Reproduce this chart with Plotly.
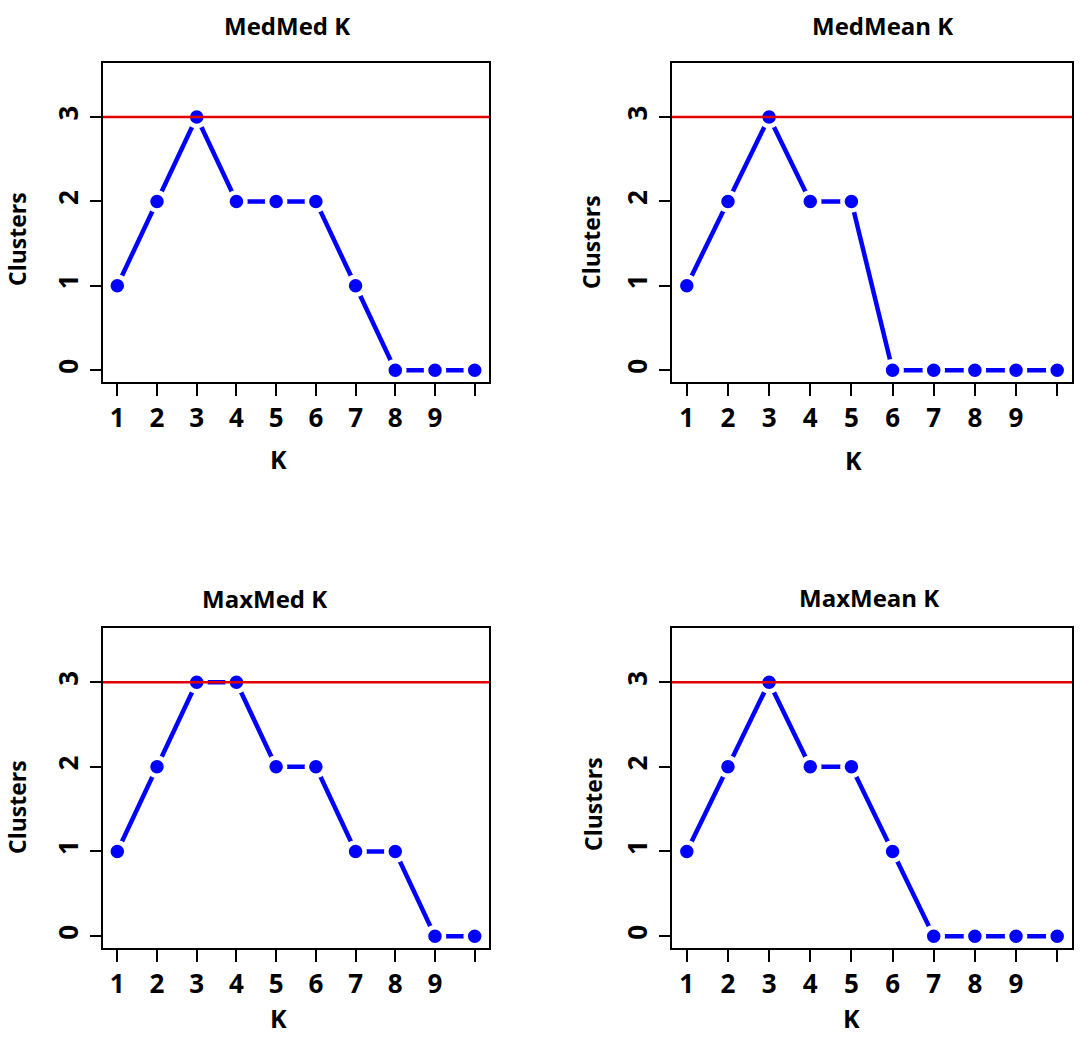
import plotly.graph_objects as go
from plotly.subplots import make_subplots

# K values and cluster counts per method
k = [1, 2, 3, 4, 5, 6, 7, 8, 9, 10]
medmed = [1, 2, 3, 2, 2, 2, 1, 0, 0, 0]
medmean = [1, 2, 3, 2, 2, 0, 0, 0, 0, 0]
maxmed = [1, 2, 3, 3, 2, 2, 1, 1, 0, 0]
maxmean = [1, 2, 3, 2, 2, 1, 0, 0, 0, 0]

titles = ["MedMed K", "MedMean K", "MaxMed K", "MaxMean K"]
series = [medmed, medmean, maxmed, maxmean]
x_ticks = [1, 2, 3, 4, 5, 6, 7, 8, 9, 10]
x_labels = ["1", "2", "3", "4", "5", "6", "7", "8", "9", ""]
y_ticks = [0, 1, 2, 3]
true_k = 3

W, H = 1084, 1037
FONT = "Open Sans"


def px(x):
    return x / W


def py(y):
    return 1 - y / H


# plot boxes in pixels: (left, right, top, bottom)
boxes = [(103, 489, 63, 382), (672, 1072, 63, 382),
         (103, 489, 628, 948), (672, 1072, 628, 948)]
title_pos = [(287, 25), (882, 25), (264, 598), (869, 597)]
ylab_pos = [(17, 239), (591, 242), (17, 807), (593, 804)]
xlab_pos = [(278, 459), (853, 460), (278, 1018), (851, 1018)]

fig = make_subplots(rows=2, cols=2)

for i, vals in enumerate(series):
    r, c = i // 2 + 1, i % 2 + 1
    fig.add_trace(go.Scatter(
        x=k, y=vals, mode="lines+markers",
        line=dict(color="#0000FF", width=4.5),
        marker=dict(color="#0000FF", size=18,
                    line=dict(color="white", width=4.5)),
        showlegend=False), row=r, col=c)
    fig.add_hline(y=true_k, line=dict(color="#E00000", width=2.5), row=r, col=c)

    left, right, top, bottom = boxes[i]
    fig.update_xaxes(domain=[px(left), px(right)], range=[0.64, 10.36],
                     tickvals=x_ticks, ticktext=x_labels,
                     ticks="outside", ticklen=12, tickwidth=2, tickcolor="black",
                     showline=True, mirror=True, linewidth=2, linecolor="black",
                     showgrid=False, zeroline=False, ticklabelstandoff=0,
                     tickfont=dict(family=FONT, size=26, color="black", weight="bold"),
                     row=r, col=c)
    fig.update_yaxes(domain=[py(bottom), py(top)], range=[-0.14, 3.64],
                     tickvals=y_ticks, tickangle=-90,
                     ticks="outside", ticklen=11, tickwidth=2, tickcolor="black",
                     showline=True, mirror=True, linewidth=2, linecolor="black",
                     showgrid=False, zeroline=False, ticklabelstandoff=2,
                     tickfont=dict(family=FONT, size=26, color="black", weight="bold"),
                     row=r, col=c)

annotations = []
for i in range(4):
    tx, ty = title_pos[i]
    annotations.append(dict(text=titles[i], x=px(tx), y=py(ty), xref="paper", yref="paper",
                            showarrow=False, xanchor="center", yanchor="middle",
                            font=dict(family=FONT, size=24, color="black", weight="bold")))
    lx, ly = ylab_pos[i]
    annotations.append(dict(text="Clusters", x=px(lx), y=py(ly), xref="paper", yref="paper",
                            showarrow=False, xanchor="center", yanchor="middle", textangle=-90,
                            font=dict(family=FONT, size=23, color="black", weight="bold")))
    kx, ky = xlab_pos[i]
    annotations.append(dict(text="K", x=px(kx), y=py(ky), xref="paper", yref="paper",
                            showarrow=False, xanchor="center", yanchor="middle",
                            font=dict(family=FONT, size=25, color="black", weight="bold")))

fig.update_layout(width=W, height=H, margin=dict(l=0, r=0, t=0, b=0),
                  paper_bgcolor="white", plot_bgcolor="white",
                  annotations=annotations)

# drop the default page margin so the figure fills the window exactly
fig.write_html("out.html", config={"displayModeBar": False},
               post_script="document.body.style.margin='0';")
